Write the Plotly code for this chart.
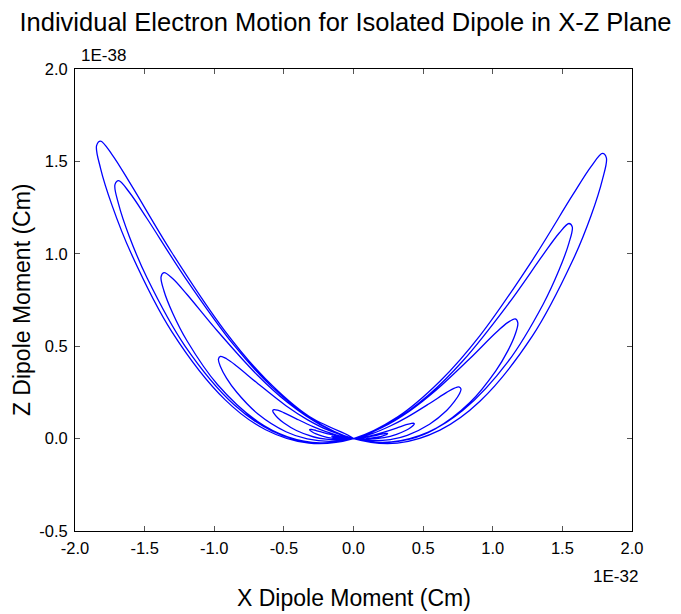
import plotly.graph_objects as go

# ---- data (x in 1E-32 Cm, z in 1E-38 Cm) ----
# each loop leaves the origin along its inner branch, rounds the tip and returns along its outer branch
L1_x = [0, -0.320, -0.631, -0.923, -1.305, -1.598, -1.734, -1.817, -1.845, -1.817, -1.734, -1.598, -1.305, -0.923, -0.631, -0.320, 0]
L1_z = [0, 0.121, 0.323, 0.582, 1.007, 1.374, 1.537, 1.610, 1.585, 1.464, 1.262, 1.004, 0.579, 0.211, 0.048, -0.025, 0]

R1_x = [0.315, 0.621, 0.908, 1.284, 1.573, 1.707, 1.788, 1.816, 1.788, 1.707, 1.573, 1.284, 0.908, 0.621, 0.315, 0]
R1_z = [0.116, 0.310, 0.557, 0.965, 1.317, 1.473, 1.543, 1.519, 1.403, 1.209, 0.962, 0.554, 0.202, 0.046, -0.024, 0]

L2_x = [-0.297, -0.586, -0.857, -1.211, -1.483, -1.610, -1.687, -1.713, -1.687, -1.610, -1.483, -1.211, -0.857, -0.586, -0.297, 0]
L2_z = [0.105, 0.280, 0.504, 0.873, 1.191, 1.333, 1.396, 1.374, 1.269, 1.094, 0.870, 0.502, 0.183, 0.042, -0.022, 0]

R2_x = [0.273, 0.537, 0.786, 1.111, 1.361, 1.476, 1.547, 1.571, 1.547, 1.476, 1.361, 1.111, 0.786, 0.537, 0.273, 0]
R2_z = [0.088, 0.234, 0.421, 0.728, 0.994, 1.111, 1.164, 1.146, 1.058, 0.912, 0.726, 0.418, 0.153, 0.035, -0.018, 0]

L3_x = [-0.240, -0.473, -0.691, -0.977, -1.197, -1.299, -1.361, -1.382, -1.361, -1.299, -1.197, -0.977, -0.691, -0.473, -0.240, 0]
L3_z = [0.076, 0.195, 0.344, 0.582, 0.781, 0.866, 0.898, 0.875, 0.799, 0.680, 0.531, 0.293, 0.094, 0.010, -0.023, 0]

R3_x = [0.205, 0.404, 0.590, 0.834, 1.022, 1.109, 1.162, 1.180, 1.162, 1.109, 1.022, 0.834, 0.590, 0.404, 0.205, 0]
R3_z = [0.060, 0.150, 0.260, 0.432, 0.573, 0.629, 0.648, 0.626, 0.566, 0.476, 0.367, 0.194, 0.054, -0.003, -0.022, 0]

L4_x = [-0.168, -0.332, -0.485, -0.686, -0.840, -0.912, -0.955, -0.970, -0.955, -0.912, -0.840, -0.686, -0.485, -0.332, -0.168, 0]
L4_z = [0.041, 0.103, 0.178, 0.297, 0.393, 0.432, 0.445, 0.430, 0.389, 0.327, 0.252, 0.133, 0.037, -0.002, -0.015, 0]

R4_x = [0.134, 0.264, 0.386, 0.546, 0.669, 0.725, 0.760, 0.772, 0.760, 0.725, 0.669, 0.546, 0.386, 0.264, 0.134, 0]
R4_z = [0.027, 0.068, 0.116, 0.190, 0.250, 0.273, 0.279, 0.268, 0.241, 0.201, 0.152, 0.078, 0.018, -0.005, -0.011, 0]

L5_x = [-0.101, -0.198, -0.290, -0.410, -0.502, -0.545, -0.571, -0.580, -0.571, -0.545, -0.502, -0.410, -0.290, -0.198, -0.101, 0]
L5_z = [0.015, 0.038, 0.065, 0.107, 0.141, 0.154, 0.157, 0.151, 0.136, 0.113, 0.086, 0.044, 0.010, -0.003, -0.006, 0]

R5_x = [0.076, 0.150, 0.219, 0.309, 0.378, 0.411, 0.430, 0.437, 0.430, 0.411, 0.378, 0.309, 0.219, 0.150, 0.076, 0]
R5_z = [0.008, 0.020, 0.035, 0.057, 0.075, 0.081, 0.083, 0.080, 0.072, 0.060, 0.045, 0.023, 0.005, -0.001, -0.003, 0]

L6_x = [-0.055, -0.108, -0.158, -0.223, -0.273, -0.296, -0.310, -0.315, -0.310, -0.296, -0.273, -0.223, -0.158, -0.108, -0.055, 0]
L6_z = [0.005, 0.012, 0.021, 0.034, 0.045, 0.049, 0.050, 0.048, 0.043, 0.036, 0.027, 0.014, 0.003, -0.001, -0.002, 0]

R6_x = [0.043, 0.084, 0.123, 0.173, 0.212, 0.230, 0.241, 0.245, 0.241, 0.230, 0.212, 0.173, 0.123, 0.084, 0.043, 0]
R6_z = [0.003, 0.007, 0.012, 0.019, 0.025, 0.028, 0.028, 0.027, 0.024, 0.020, 0.015, 0.008, 0.002, -0.001, -0.001, 0]

L7_x = [-0.078, -0.134, -0.153, -0.155, -0.153, -0.134, -0.078, 0]
L7_z = [0.005, 0.010, 0.012, 0.011, 0.010, 0.006, 0.001, 0]

x_tick_vals = [-2.0, -1.5, -1.0, -0.5, 0.0, 0.5, 1.0, 1.5, 2.0]
x_tick_text = ["-2.0", "-1.5", "-1.0", "-0.5", "0.0", "0.5", "1.0", "1.5", "2.0"]
y_tick_vals = [-0.5, 0.0, 0.5, 1.0, 1.5, 2.0]
y_tick_text = ["-0.5", "0.0", "0.5", "1.0", "1.5", "2.0"]

loops = [(L1_x, L1_z), (R1_x, R1_z), (L2_x, L2_z), (R2_x, R2_z), (L3_x, L3_z),
         (R3_x, R3_z), (L4_x, L4_z), (R4_x, R4_z), (L5_x, L5_z), (R5_x, R5_z),
         (L6_x, L6_z), (R6_x, R6_z), (L7_x, L7_z)]
xs, zs = [], []
for lx, lz in loops:
    xs += lx
    zs += lz

FONT = "Liberation Sans, Arial, sans-serif"

fig = go.Figure()
fig.add_trace(go.Scatter(x=xs, y=zs, mode="lines",
                         line=dict(color="#0000ff", width=1.3, shape="spline", smoothing=1.0),
                         hoverinfo="skip", showlegend=False))

# the page body adds an 8px offset, so the figure is 8px smaller than the window
fig.update_layout(
    width=673, height=606,
    margin=dict(l=67, r=49, t=61, b=83),
    paper_bgcolor="white", plot_bgcolor="white",
    font=dict(family=FONT, color="black", size=16),
    title=dict(text="Individual Electron Motion for Isolated Dipole in X-Z Plane",
               x=0.5015, xref="container", xanchor="center",
               y=0.977, yref="container", yanchor="middle",
               font=dict(family=FONT, size=25.5, color="black")),
    showlegend=False,
)
fig.update_xaxes(range=[-2, 2], tickvals=x_tick_vals, ticktext=x_tick_text,
                 ticks="inside", ticklen=5, tickcolor="#555", showline=True,
                 linecolor="black", linewidth=1, mirror="ticks", showgrid=False,
                 zeroline=False, tickfont=dict(size=16.5), ticklabelstandoff=2)
fig.update_yaxes(range=[-0.5, 2.0], tickvals=y_tick_vals, ticktext=y_tick_text,
                 ticks="inside", ticklen=5, tickcolor="#555", showline=True,
                 linecolor="black", linewidth=1, mirror="ticks", showgrid=False,
                 zeroline=False, tickfont=dict(size=16.5), ticklabelstandoff=3)

fig.add_annotation(text="1E-38", xref="paper", yref="paper", x=0.008, y=1,
                   xanchor="left", yanchor="bottom", yshift=2, showarrow=False,
                   font=dict(size=17))
fig.add_annotation(text="1E-32", xref="paper", yref="paper", x=0.97, y=0,
                   xanchor="center", yanchor="middle", yshift=-45, showarrow=False,
                   font=dict(size=17))
fig.add_annotation(text="X Dipole Moment (Cm)", xref="paper", yref="paper", x=0.5, y=0,
                   xanchor="center", yanchor="middle", yshift=-67, showarrow=False,
                   font=dict(size=23))
fig.add_annotation(text="Z Dipole Moment (Cm)", xref="paper", yref="paper", x=-0.095, y=0.5,
                   xanchor="center", yanchor="middle", textangle=-90, showarrow=False,
                   font=dict(size=23))

fig.write_html("out.html")
